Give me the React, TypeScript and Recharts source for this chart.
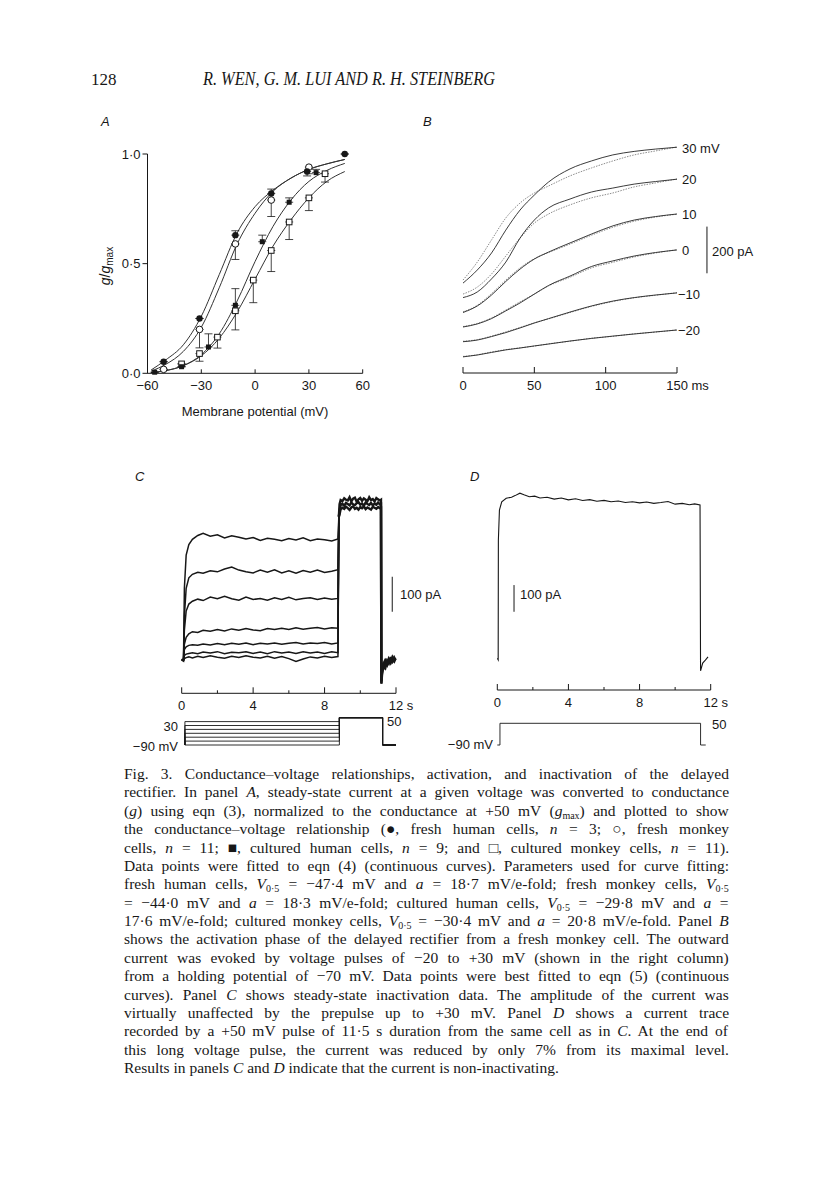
import React from 'react';
import {
  ComposedChart,
  LineChart,
  Line,
  Scatter,
  ErrorBar,
  XAxis,
  YAxis,
  ReferenceLine,
} from 'recharts';

const SANS = '"Liberation Sans", Arial, Helvetica, sans-serif';
const SERIF = '"Liberation Serif", "Times New Roman", serif';
const INK = '#171717';

// ---------- panel A: g/gmax vs membrane potential (mV)
const fitV = [-58, -50, -40, -30, -20, -10, 0, 10, 20, 30, 40, 50];
const fitFreshHuman = [0.015, 0.06, 0.13, 0.26, 0.45, 0.64, 0.76, 0.835, 0.89, 0.93, 0.955, 0.975];
const fitFreshMonkey = [0.01, 0.04, 0.1, 0.21, 0.39, 0.59, 0.73, 0.83, 0.89, 0.93, 0.955, 0.975];
const fitCulturedHuman = [0.003, 0.012, 0.035, 0.085, 0.18, 0.33, 0.51, 0.67, 0.79, 0.875, 0.925, 0.957];
const fitCulturedMonkey = [0.003, 0.012, 0.035, 0.08, 0.16, 0.28, 0.43, 0.58, 0.7, 0.8, 0.875, 0.92];

const freshHumanV = [-51, -31, -11, 9, 29, 50];
const freshHumanG = [0.053, 0.25, 0.63, 0.82, 0.92, 1.0];
const freshHumanErr = [[0, 0], [0, 0], [0, 0.02], [0, 0.02], [0.02, 0], [0, 0]];

const freshMonkeyV = [-51, -31, -11, 9, 30];
const freshMonkeyG = [0.018, 0.2, 0.59, 0.79, 0.94];
const freshMonkeyErr = [[0, 0], [0.084, 0], [0.071, 0], [0.075, 0], [0.03, 0]];

const culturedHumanV = [-56, -41, -26, -11, 4, 19, 34];
const culturedHumanG = [0.005, 0.03, 0.12, 0.31, 0.6, 0.78, 0.915];
const culturedHumanErr = [[0, 0], [0, 0], [0, 0.06], [0, 0.076], [0, 0.03], [0, 0.02], [0, 0.015]];

const culturedMonkeyV = [-41, -31, -21, -11, -1, 9, 19, 30, 39];
const culturedMonkeyG = [0.043, 0.09, 0.165, 0.285, 0.425, 0.56, 0.69, 0.8, 0.91];
const culturedMonkeyErr = [[0, 0], [0.035, 0], [0.05, 0], [0.087, 0], [0.103, 0], [0.096, 0], [0.08, 0], [0.058, 0], [0.038, 0]];

// ---------- panel B: activation, pA vs ms (traces offset for display)
const tB = [0, 10, 20, 30, 40, 50, 60, 75, 90, 105, 120, 135, 150];
const fit30 = [385, 441, 514, 612, 698, 762, 818, 874, 908, 934, 949, 959, 967];
const rec30 = [398, 475, 570, 664, 728, 771, 801, 844, 878, 908, 934, 951, 968];
const fit20 = [323, 347, 403, 475, 578, 655, 707, 745, 775, 792, 809, 820, 830];
const rec20 = [338, 368, 424, 501, 578, 642, 681, 720, 750, 771, 797, 814, 831];
const fit10 = [259, 287, 334, 392, 445, 488, 518, 557, 595, 630, 655, 670, 681];
const rec10 = [262, 290, 340, 398, 450, 490, 516, 552, 590, 624, 650, 668, 680];
const fit0 = [197, 210, 233, 266, 300, 338, 375, 415, 456, 480, 501, 516, 527];
const rec0 = [199, 212, 236, 270, 305, 338, 373, 410, 450, 474, 497, 514, 528];
const fitM10 = [134, 141, 156, 173, 193, 214, 233, 261, 287, 308, 323, 334, 343];
const recM10 = [136, 143, 158, 176, 195, 215, 232, 259, 285, 306, 322, 333, 344];
const fitM20 = [69, 77, 88, 99, 107, 116, 124, 137, 148, 158, 167, 176, 184];
const recM20 = [71, 78, 90, 100, 108, 115, 125, 136, 149, 157, 168, 175, 185];
const labelsB = ['30 mV', '20', '10', '0', '\u221210', '\u221220'];

// ---------- panel C: prepulse traces (pA vs s)
const tC = [0, 0.1, 0.15, 0.25, 0.4, 0.6, 0.9, 1.2, 1.6, 2.0, 2.4, 2.8, 3.2, 3.6, 4.0, 4.4, 4.8, 5.2, 5.6, 6.0, 6.4, 6.8, 7.2, 7.6, 8.0, 8.4, 8.75, 8.8];
const prepulse1 = [95, 92, 300, 395, 425, 440, 451, 457, 449, 453, 444, 450, 446, 441, 445, 437, 443, 440, 436, 442, 438, 444, 436, 441, 439, 435, 441, 505];
const prepulse2 = [96, 94, 220, 300, 330, 340, 346, 343, 350, 347, 355, 361, 352, 347, 344, 352, 346, 353, 344, 350, 343, 351, 346, 352, 345, 349, 353, 505];
const prepulse3 = [97, 95, 180, 235, 255, 263, 269, 265, 275, 270, 277, 270, 266, 275, 268, 271, 266, 273, 268, 274, 267, 271, 273, 268, 272, 269, 271, 505];
const prepulse4 = [96, 95, 140, 160, 170, 176, 174, 180, 177, 182, 178, 184, 180, 185, 181, 179, 185, 182, 186, 182, 187, 183, 186, 188, 184, 187, 186, 505];
const prepulse5 = [97, 96, 125, 133, 137, 139, 137, 141, 138, 142, 139, 143, 140, 144, 139, 143, 141, 144, 140, 143, 145, 141, 144, 142, 145, 141, 144, 505];
const prepulse6 = [96, 95, 108, 112, 114, 116, 113, 118, 115, 119, 113, 117, 116, 119, 114, 118, 113, 119, 115, 118, 114, 119, 115, 118, 114, 119, 116, 505];
const prepulse7 = [95, 94, 99, 102, 104, 101, 106, 102, 107, 103, 100, 106, 102, 107, 103, 101, 106, 100, 105, 99, 91, 98, 104, 101, 106, 102, 105, 505];

const tTest = [8.8, 8.84, 8.9, 9.0, 9.1, 9.2, 9.3, 9.4, 9.5, 9.6, 9.7, 9.8, 9.9, 10.0, 10.1, 10.2, 10.3, 10.4, 10.5, 10.6, 10.7, 10.8, 10.9, 11.0, 11.1, 11.16, 11.18, 11.22, 11.3, 11.4, 11.5, 11.6, 11.7, 11.8, 11.9, 11.97];
const testHi = [505, 540, 552, 549, 557, 553, 551, 560, 548, 556, 559, 547, 554, 558, 550, 557, 553, 549, 560, 552, 555, 548, 558, 554, 551, 553, 30, 62, 85, 95, 88, 100, 92, 104, 96, 101];
const testMid = [505, 522, 538, 542, 536, 544, 541, 537, 545, 540, 538, 543, 546, 539, 542, 536, 545, 541, 538, 544, 537, 542, 539, 545, 540, 541, 27, 55, 78, 72, 93, 85, 98, 90, 102, 95];
const testLo = [505, 512, 526, 530, 527, 533, 529, 524, 531, 534, 527, 530, 525, 532, 529, 534, 526, 531, 528, 525, 533, 530, 527, 532, 529, 530, 35, 68, 70, 88, 80, 94, 86, 97, 91, 99];

// ---------- panel D: 11.5 s pulse to +50 mV
const tD = [0, 0.05, 0.06, 0.12, 0.25, 0.5, 0.8, 1.0, 1.27, 1.5, 1.8, 2.1, 2.4, 2.8, 3.2, 3.6, 4.0, 4.4, 4.8, 5.2, 5.6, 6.0, 6.4, 6.8, 7.2, 7.6, 8.0, 8.4, 8.8, 9.2, 9.6, 10.0, 10.4, 10.8, 11.1, 11.4, 11.43, 11.55, 11.7, 11.85];
const iD = [119, 113, 560, 674, 705, 718, 722, 728, 737, 731, 724, 726, 719, 722, 715, 719, 712, 716, 710, 713, 707, 710, 705, 708, 702, 705, 701, 704, 699, 702, 706, 696, 699, 694, 697, 693, 72, 101, 112, 124];

// ---------- voltage protocols (mV vs s)
const prepulseLevels = [30, 10, -10, -30, -50, -70, -90];
const protoCT = [0.18, 0.18, 8.83, 8.83, 11.25, 11.25, 12];
const protoDT = [0, 0.15, 0.15, 11.43, 11.43, 11.72];
const protoDV = [-90, -90, 50, 50, -90, -90];

const minus = (v: number) => (v < 0 ? `\u2212${Math.abs(v)}` : `${v}`);
const pts = (xs: number[], ys: number[], errs?: number[][]) =>
  xs.map((v, i) => ({ v, g: ys[i], err: errs ? errs[i] : [0, 0] }));
const series = (ts: number[], ys: number[]) => ts.map((t, i) => ({ t, y: ys[i] }));

const FilledCircle = (p: any) => <circle cx={p.cx} cy={p.cy} r={3.2} fill={INK} />;
const OpenCircle = (p: any) => <circle cx={p.cx} cy={p.cy} r={3.3} fill="#fff" stroke={INK} strokeWidth={1} />;
const FilledSquare = (p: any) => <rect x={p.cx - 2.5} y={p.cy - 2.5} width={5} height={5} fill={INK} />;
const OpenSquare = (p: any) => <rect x={p.cx - 2.8} y={p.cy - 2.8} width={5.6} height={5.6} fill="#fff" stroke={INK} strokeWidth={1} />;

// tick marks point up into the plot, labels below
const upTick = (p: any, opts: { label?: (v: number) => string | null; len?: (v: number) => number; last?: number; unit?: string; lastHalf?: number }) => {
  const v = p.payload.value;
  const len = opts.len ? opts.len(v) : 4;
  const lbl = opts.label ? opts.label(v) : minus(v);
  const isLast = opts.last !== undefined && v === opts.last;
  return (
    <g>
      <line x1={p.x} x2={p.x} y1={p.y} y2={p.y - len} stroke={INK} strokeWidth={1} />
      {lbl !== null && (
        <text
          x={isLast ? p.x - (opts.lastHalf || 0) : p.x}
          y={p.y + 17}
          textAnchor={isLast ? 'start' : 'middle'}
          fontSize={13}
          fontFamily={SANS}
          fill={INK}
        >
          {isLast ? `${lbl} ${opts.unit}` : lbl}
        </text>
      )}
    </g>
  );
};

const PanelA = () => (
  <ComposedChart width={300} height={280} margin={{ top: 24, right: 27.3, bottom: 6.7, left: 17.5 }}>
    <XAxis
      type="number"
      dataKey="v"
      domain={[-60, 60]}
      ticks={[-60, -30, 0, 30, 60]}
      height={30}
      axisLine={{ stroke: INK }}
      tickLine={false}
      tickSize={0}
      tickMargin={0}
      tick={(p: any) => upTick(p, { len: () => 4 })}
    />
    <YAxis
      type="number"
      dataKey="g"
      domain={[0, 1]}
      ticks={[0, 0.5, 1]}
      width={40}
      axisLine={{ stroke: INK }}
      tickLine={{ stroke: INK }}
      tickSize={5}
      tickMargin={2}
      tick={{ fill: INK, fontSize: 13, fontFamily: SANS }}
      tickFormatter={(v: number) => v.toFixed(1).replace('.', '\u00b7')}
    />
    <Line data={pts(fitV, fitCulturedMonkey)} dataKey="g" type="monotone" dot={false} stroke="#333" strokeWidth={1} isAnimationActive={false} />
    <Line data={pts(fitV, fitCulturedHuman)} dataKey="g" type="monotone" dot={false} stroke="#333" strokeWidth={1} isAnimationActive={false} />
    <Line data={pts(fitV, fitFreshMonkey)} dataKey="g" type="monotone" dot={false} stroke="#333" strokeWidth={1} isAnimationActive={false} />
    <Line data={pts(fitV, fitFreshHuman)} dataKey="g" type="monotone" dot={false} stroke="#333" strokeWidth={1} isAnimationActive={false} />
    <Scatter data={pts(culturedMonkeyV, culturedMonkeyG, culturedMonkeyErr)} dataKey="g" shape={OpenSquare} isAnimationActive={false}>
      <ErrorBar dataKey="err" direction="y" width={4} stroke={INK} strokeWidth={0.8} />
    </Scatter>
    <Scatter data={pts(culturedHumanV, culturedHumanG, culturedHumanErr)} dataKey="g" shape={FilledSquare} isAnimationActive={false}>
      <ErrorBar dataKey="err" direction="y" width={4} stroke={INK} strokeWidth={0.8} />
    </Scatter>
    <Scatter data={pts(freshMonkeyV, freshMonkeyG, freshMonkeyErr)} dataKey="g" shape={OpenCircle} isAnimationActive={false}>
      <ErrorBar dataKey="err" direction="y" width={4} stroke={INK} strokeWidth={0.8} />
    </Scatter>
    <Scatter data={pts(freshHumanV, freshHumanG, freshHumanErr)} dataKey="g" shape={FilledCircle} isAnimationActive={false}>
      <ErrorBar dataKey="err" direction="y" width={4} stroke={INK} strokeWidth={0.8} />
    </Scatter>
  </ComposedChart>
);

const recB = [rec30, rec20, rec10, rec0, recM10, recM20];
const fitB = [fit30, fit20, fit10, fit0, fitM10, fitM20];

const PanelB = () => (
  <LineChart width={300} height={290} margin={{ top: 19.5, right: 63, bottom: 7, left: 23 }}>
    <XAxis
      type="number"
      dataKey="t"
      domain={[0, 150]}
      ticks={[0, 50, 100, 150]}
      height={30}
      axisLine={{ stroke: INK }}
      tickLine={false}
      tickSize={0}
      tickMargin={0}
      tick={(p: any) => upTick(p, { len: () => 6, last: 150, unit: 'ms', lastHalf: 10.8 })}
    />
    <YAxis hide type="number" domain={[0, 1000]} />
    {recB.map((r, k) => (
      <Line key={`rec${k}`} data={series(tB, r)} dataKey="y" type="monotone" dot={false} stroke="#8c8c8c" strokeWidth={1} strokeDasharray="1.5 1.2" isAnimationActive={false} />
    ))}
    {fitB.map((f, k) => (
      <Line key={`fit${k}`} data={series(tB, f)} dataKey="y" type="monotone" dot={false} stroke="#262626" strokeWidth={0.9} isAnimationActive={false} />
    ))}
    <ReferenceLine segment={[{ x: 171, y: 427 }, { x: 171, y: 627 }]} stroke={INK} strokeWidth={1} ifOverflow="visible" />
  </LineChart>
);

const secTick = (p: any) =>
  upTick(p, {
    len: (v) => (v % 4 === 0 ? 6 : 3),
    label: (v) => (v % 4 === 0 ? `${v}` : null),
    last: 12,
    unit: 's',
    lastHalf: 7.2,
  });

const prepulses = [prepulse1, prepulse2, prepulse3, prepulse4, prepulse5, prepulse6, prepulse7];
const tests = [testLo, testMid, testHi];

const PanelC = () => (
  <LineChart width={300} height={250} margin={{ top: 13.3, right: 54, bottom: 2.7, left: 31.7 }}>
    <XAxis
      type="number"
      dataKey="t"
      domain={[0, 12]}
      ticks={[0, 2, 4, 6, 8, 10, 12]}
      height={24}
      axisLine={{ stroke: INK }}
      tickLine={false}
      tickSize={0}
      tickMargin={0}
      tick={secTick}
    />
    <YAxis hide type="number" domain={[0, 600]} />
    {prepulses.map((tr, k) => (
      <Line key={`pp${k}`} data={series(tC, tr)} dataKey="y" type="linear" dot={false} stroke={INK} strokeWidth={1.5} isAnimationActive={false} />
    ))}
    {tests.map((tr, k) => (
      <Line key={`ts${k}`} data={series(tTest, tr)} dataKey="y" type="linear" dot={false} stroke={INK} strokeWidth={2.4} isAnimationActive={false} />
    ))}
    <ReferenceLine segment={[{ x: 11.79, y: 233 }, { x: 11.79, y: 333 }]} stroke={INK} strokeWidth={1} ifOverflow="visible" />
  </LineChart>
);

const PanelD = () => (
  <LineChart width={300} height={260} margin={{ top: 16.4, right: 59.3, bottom: 6, left: 27.3 }}>
    <XAxis
      type="number"
      dataKey="t"
      domain={[0, 12]}
      ticks={[0, 2, 4, 6, 8, 10, 12]}
      height={24}
      axisLine={{ stroke: INK }}
      tickLine={false}
      tickSize={0}
      tickMargin={0}
      tick={secTick}
    />
    <YAxis hide type="number" domain={[0, 800]} />
    <Line data={series(tD, iD)} dataKey="y" type="linear" dot={false} stroke={INK} strokeWidth={1.1} isAnimationActive={false} />
    <ReferenceLine segment={[{ x: 0.94, y: 293 }, { x: 0.94, y: 393 }]} stroke={INK} strokeWidth={1} ifOverflow="visible" />
  </LineChart>
);

const ProtocolC = () => (
  <LineChart width={300} height={60} margin={{ top: 15.75, right: 54, bottom: 13.05, left: 31.7 }}>
    <XAxis hide type="number" dataKey="t" domain={[0, 12]} />
    <YAxis hide type="number" domain={[-100, 60]} />
    {prepulseLevels.map((lv, k) => (
      <Line
        key={`pc${k}`}
        data={protoCT.map((t, i) => ({ t, y: [-90, lv, lv, 50, 50, -90, -90][i] }))}
        dataKey="y"
        type="linear"
        dot={false}
        stroke={INK}
        strokeWidth={0.9}
        isAnimationActive={false}
      />
    ))}
  </LineChart>
);

const ProtocolD = () => (
  <LineChart width={300} height={60} margin={{ top: 21.75, right: 59.3, bottom: 13.45, left: 27.3 }}>
    <XAxis hide type="number" dataKey="t" domain={[0, 12]} />
    <YAxis hide type="number" domain={[-100, 60]} />
    <Line data={series(protoDT, protoDV)} dataKey="y" type="linear" dot={false} stroke={INK} strokeWidth={0.9} isAnimationActive={false} />
  </LineChart>
);

type Seg = string | { i: string } | { sub: string };

const caption: Seg[][] = [
  ['Fig. 3. Conductance\u2013voltage relationships, activation, and inactivation of the delayed'],
  ['rectifier. In panel ', { i: 'A' }, ', steady-state current at a given voltage was converted to conductance'],
  ['(', { i: 'g' }, ') using eqn (3), normalized to the conductance at +50 mV (', { i: 'g' }, { sub: 'max' }, ') and plotted to show'],
  ['the conductance\u2013voltage relationship (\u25cf, fresh human cells, ', { i: 'n' }, ' = 3; \u25cb, fresh monkey'],
  ['cells, ', { i: 'n' }, ' = 11; \u25a0, cultured human cells, ', { i: 'n' }, ' = 9; and \u25a1, cultured monkey cells, ', { i: 'n' }, ' = 11).'],
  ['Data points were fitted to eqn (4) (continuous curves). Parameters used for curve fitting:'],
  ['fresh human cells, ', { i: 'V' }, { sub: '0\u00b75' }, ' = \u221247\u00b74 mV and ', { i: 'a' }, ' = 18\u00b77 mV/e-fold; fresh monkey cells, ', { i: 'V' }, { sub: '0\u00b75' }],
  ['= \u221244\u00b70 mV and ', { i: 'a' }, ' = 18\u00b73 mV/e-fold; cultured human cells, ', { i: 'V' }, { sub: '0\u00b75' }, ' = \u221229\u00b78 mV and ', { i: 'a' }, ' ='],
  ['17\u00b76 mV/e-fold; cultured monkey cells, ', { i: 'V' }, { sub: '0\u00b75' }, ' = \u221230\u00b74 mV and ', { i: 'a' }, ' = 20\u00b78 mV/e-fold. Panel ', { i: 'B' }],
  ['shows the activation phase of the delayed rectifier from a fresh monkey cell. The outward'],
  ['current was evoked by voltage pulses of \u221220 to +30 mV (shown in the right column)'],
  ['from a holding potential of \u221270 mV. Data points were best fitted to eqn (5) (continuous'],
  ['curves). Panel ', { i: 'C' }, ' shows steady-state inactivation data. The amplitude of the current was'],
  ['virtually unaffected by the prepulse up to +30 mV. Panel ', { i: 'D' }, ' shows a current trace'],
  ['recorded by a +50 mV pulse of 11\u00b75 s duration from the same cell as in ', { i: 'C' }, '. At the end of'],
  ['this long voltage pulse, the current was reduced by only 7% from its maximal level.'],
  ['Results in panels ', { i: 'C' }, ' and ', { i: 'D' }, ' indicate that the current is non-inactivating.'],
];

const CAP_SIZE = 15.5;
const CAP_WIDTH = 605;
const measurer: CanvasRenderingContext2D | null =
  typeof document !== 'undefined' ? document.createElement('canvas').getContext('2d') : null;

// word spacing that stretches a line of the legend to the full column width
const justify = (segs: Seg[]) => {
  if (!measurer) return 0;
  let w = 0;
  let spaces = 0;
  segs.forEach((s) => {
    let str = '';
    if (typeof s === 'string') {
      measurer.font = `${CAP_SIZE}px "Liberation Serif"`;
      str = s;
    } else if ('i' in s) {
      measurer.font = `italic ${CAP_SIZE}px "Liberation Serif"`;
      str = s.i;
    } else {
      measurer.font = `10px "Liberation Serif"`;
      str = s.sub;
    }
    w += measurer.measureText(str).width;
    spaces += str.split(' ').length - 1;
  });
  return spaces ? (CAP_WIDTH - w) / spaces : 0;
};

const renderSegs = (segs: Seg[]) => {
  let shifted = false;
  return segs.map((s, k) => {
    if (typeof s === 'string' || 'i' in s) {
      const dy = shifted ? -3 : undefined;
      shifted = false;
      return typeof s === 'string' ? (
        <tspan key={k} dy={dy}>{s}</tspan>
      ) : (
        <tspan key={k} dy={dy} fontStyle="italic">{s.i}</tspan>
      );
    }
    shifted = true;
    return (
      <tspan key={k} dy={3} fontSize={10}>{s.sub}</tspan>
    );
  });
};

const txt = { fontFamily: SANS, fontSize: 13, fill: INK } as const;

const Overlay = () => (
  <svg width={816} height={1204} style={{ position: 'absolute', left: 0, top: 0 }}>
    {/* running head */}
    <text x={91} y={85} fontFamily={SERIF} fontSize={17} fill={INK}>128</text>
    <text x={203} y={85} fontFamily={SERIF} fontSize={18.5} fontStyle="italic" fill={INK} textLength={292} lengthAdjust="spacingAndGlyphs">
      R. WEN, G. M. LUI AND R. H. STEINBERG
    </text>

    {/* panel letters */}
    <text x={101} y={126} {...txt} fontStyle="italic">A</text>
    <text x={423} y={126} {...txt} fontStyle="italic">B</text>
    <text x={135} y={481} {...txt} fontStyle="italic">C</text>
    <text x={470} y={481} {...txt} fontStyle="italic">D</text>

    {/* panel A axis titles */}
    <text x={110} y={266} {...txt} fontSize={14} textAnchor="middle" transform="rotate(-90 110 266)">
      <tspan fontStyle="italic">g</tspan>/<tspan fontStyle="italic">g</tspan>
      <tspan fontSize={10} dy={3}>max</tspan>
    </text>
    <text x={255} y={416} {...txt} textAnchor="middle">Membrane potential (mV)</text>

    {/* panel B trace labels and scale bar */}
    {labelsB.map((l, k) => (
      <text key={l} x={l.startsWith('\u2212') ? 678 : 682} y={[153, 184, 219, 255, 299, 335][k]} {...txt}>{l}</text>
    ))}
    <text x={712} y={256} {...txt}>200 pA</text>

    {/* panel C and D scale bar labels */}
    <text x={400} y={599} {...txt}>100 pA</text>
    <text x={520} y={599} {...txt}>100 pA</text>

    {/* protocol labels */}
    <text x={178} y={731} {...txt} textAnchor="end">30</text>
    <text x={178} y={751} {...txt} textAnchor="end">{'\u221290 mV'}</text>
    <text x={387} y={726} {...txt}>50</text>
    <text x={493} y={749} {...txt} textAnchor="end">{'\u221290 mV'}</text>
    <text x={712} y={729} {...txt}>50</text>

    {/* legend */}
    {caption.map((segs, k) => (
      <text
        key={k}
        x={124}
        y={779 + k * 18.375}
        fontFamily={SERIF}
        fontSize={CAP_SIZE}
        fill={INK}
        style={k < caption.length - 1 ? { wordSpacing: `${justify(segs)}px` } : undefined}
      >
        {renderSegs(segs)}
      </text>
    ))}
  </svg>
);

const at = (left: number, top: number): React.CSSProperties => ({ position: 'absolute', left, top });

export default function App() {
  return (
    <div style={{ position: 'absolute', left: 0, top: 0, width: 816, height: 1204, background: '#fff', overflow: 'hidden' }}>
      <div style={at(90, 130)}><PanelA /></div>
      <div style={at(440, 120)}><PanelB /></div>
      <div style={at(150, 470)}><PanelC /></div>
      <div style={at(470, 460)}><PanelD /></div>
      <div style={at(150, 700)}><ProtocolC /></div>
      <div style={at(470, 700)}><ProtocolD /></div>
      <Overlay />
    </div>
  );
}
